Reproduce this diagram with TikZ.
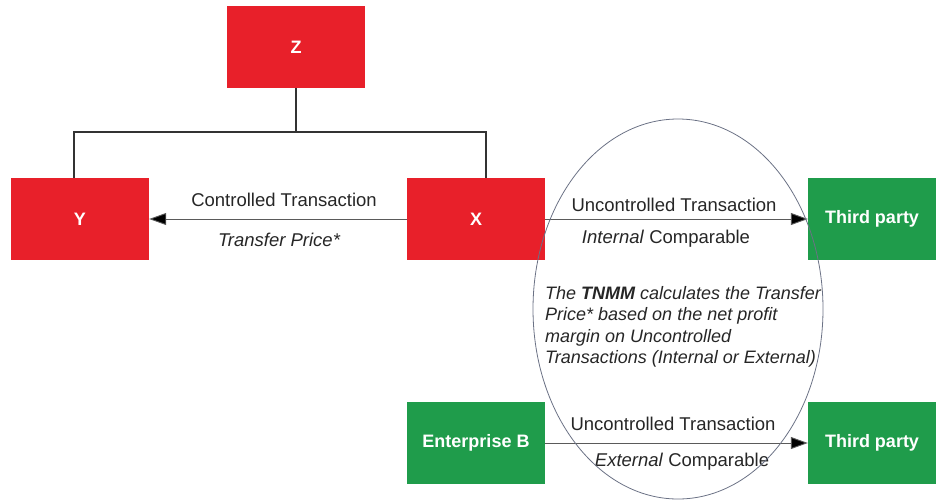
\documentclass[tikz,border=0pt]{standalone}
\usepackage{fontspec}
\setmainfont{Liberation Sans}
\usetikzlibrary{arrows.meta,shapes.geometric}

\definecolor{boxred}{HTML}{E8202A}
\definecolor{boxgreen}{HTML}{1F9C4B}
\definecolor{linegray}{HTML}{5A5A5A}
\definecolor{ovalline}{HTML}{6B7285}

\tikzset{
  entity/.style={minimum width=138pt, minimum height=82pt, inner sep=0pt,
    text=white, font=\fontsize{18}{21}\selectfont\bfseries},
  related/.style={entity, fill=boxred},
  outsider/.style={entity, fill=boxgreen},
  tree/.style={draw=black!80, line width=1.2pt},
  deal/.style={draw=linegray, line width=0.9pt,
    -{Triangle[length=17pt,width=12pt,fill=black]}},
  caption/.style={font=\fontsize{18.5}{21}\selectfont, text=black!85, inner sep=0pt},
}

\begin{document}
\begin{tikzpicture}[x=1pt,y=-1pt]
  \useasboundingbox (0,0) rectangle (936,499);

  % associated enterprises
  \node[related]  (Z) at (296,47)  {Z};
  \node[related]  (Y) at (80,219)  {Y};
  \node[related]  (X) at (476,219) {X};

  % independent parties
  \node[outsider, minimum width=128pt] (T1) at (872,219) {Third party};
  \node[outsider] (B)  at (476,443) {Enterprise B};
  \node[outsider, minimum width=128pt] (T2) at (872,443) {Third party};

  % group structure
  \coordinate (J) at (296,132);
  \draw[tree] (Z.south) -- (J);
  \draw[tree] ([xshift=-6pt]Y.north) |- (J) -| ([xshift=10pt]X.north);

  % transactions
  \draw[deal] (X.west) -- (Y.east);
  \draw[deal] (X.east) -- (T1.west);
  \draw[deal] (B.east) -- (T2.west);

  \node[caption] (ct)  at (284,200) {Controlled Transaction};
  \node[caption] (tp)  at (279,240) {\itshape Transfer Price*};
  \node[caption] (ut1) at (674,205) {Uncontrolled Transaction};
  \node[caption] (ic)  at (666,239) {\textit{Internal} Comparable};
  \node[caption] (ut2) at (673,424) {Uncontrolled Transaction};
  \node[caption] (ec)  at (682,462) {\textit{External} Comparable};

  % TNMM oval
  \node[draw=ovalline, line width=0.8pt, ellipse, minimum width=290pt,
        minimum height=380pt, inner sep=0pt] (oval) at (678,309) {};
  \node[anchor=north west, align=left, inner sep=0pt, text=black!85,
        font=\fontsize{18}{21.5}\selectfont\itshape] (note) at (545,286)
    {The \textbf{TNMM} calculates the Transfer\\
     Price* based on the net profit\\
     margin on Uncontrolled\\
     Transactions (Internal or External)};
\end{tikzpicture}
\end{document}
